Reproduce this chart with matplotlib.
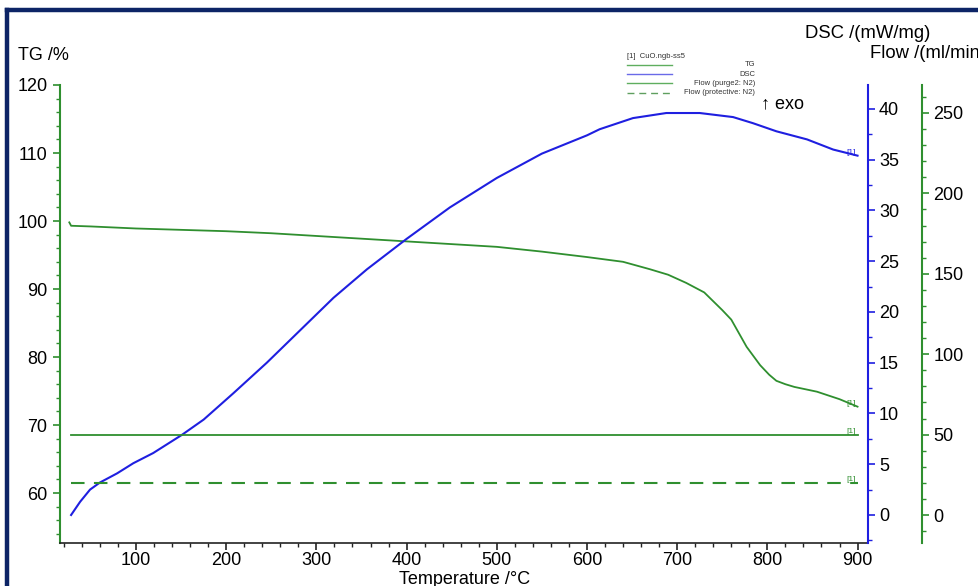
import matplotlib
matplotlib.use("Agg")
import matplotlib.pyplot as plt
from matplotlib.lines import Line2D

plt.rcParams['font.family'] = ['Liberation Sans', 'DejaVu Sans']

# TG curve (T in degC, mass %)
tg_temp = [26, 28, 50, 100, 150, 200, 250, 300, 350, 400, 450, 500, 550, 600,
           640, 670, 690, 710, 730, 750, 760, 777, 792, 802, 810, 820, 830,
           855, 880, 900]
tg_val = [99.8, 99.3, 99.2, 98.9, 98.7, 98.5, 98.2, 97.8, 97.4, 97.0, 96.6,
          96.2, 95.5, 94.7, 94.0, 92.9, 92.1, 90.9, 89.5, 86.9, 85.5, 81.5,
          78.8, 77.4, 76.5, 76.0, 75.6, 74.9, 73.8, 72.7]

# DSC curve (mW/mg)
dsc_temp = [28, 38, 49, 60, 79, 97, 119, 151, 175, 208, 245, 282, 319, 356,
            400, 448, 500, 550, 600, 614, 651, 688, 725, 762, 784, 810, 844,
            873, 900]
dsc_val = [0.0, 1.3, 2.5, 3.2, 4.1, 5.1, 6.1, 7.9, 9.4, 12.0, 15.0, 18.2,
           21.4, 24.2, 27.2, 30.3, 33.2, 35.6, 37.4, 38.0, 39.1, 39.6, 39.6,
           39.2, 38.6, 37.8, 37.0, 36.0, 35.4]

# gas flows (ml/min)
flow_temp = [28, 900]
flow_purge = [50, 50]
flow_protective = [20, 20]

legend_labels = ["TG", "DSC", "Flow (purge2: N2)", "Flow (protective: N2)"]

green = '#2f8f2f'
blue = '#1f1fe0'

fig = plt.figure(figsize=(9.79, 5.86), dpi=100)
ax = fig.add_axes([60 / 979, 1 - 543 / 586, 808 / 979, 458 / 586])
ax2 = ax.twinx()
ax3 = ax.twinx()

ax.plot(tg_temp, tg_val, color=green, lw=1.3)
ax2.plot(dsc_temp, dsc_val, color=blue, lw=1.5)
ax3.plot(flow_temp, flow_purge, color=green, lw=1.3)
ax3.plot(flow_temp, flow_protective, color=green, lw=1.5, dashes=(6.5, 4.5))

ax.set_xlim(15.7, 911.6)
ax.set_ylim(52.65, 120)
ax2.set_ylim(-2.76, 42.36)
ax3.set_ylim(-17.4, 267.4)

ax.set_xticks(range(100, 901, 100))
ax.set_xticks(range(20, 911, 20), minor=True)
ax.set_yticks(range(60, 121, 10))
ax.set_yticks(range(54, 121, 2), minor=True)
ax2.set_yticks(range(0, 41, 5))
ax2.set_yticks([x * 2.5 for x in range(-1, 17)], minor=True)
ax3.set_yticks(range(0, 251, 50))
ax3.set_yticks(range(-10, 261, 10), minor=True)

for a in (ax, ax2, ax3):
    a.spines['top'].set_visible(False)
ax.spines['right'].set_visible(False)
for s in ('left', 'bottom'):
    ax2.spines[s].set_visible(False)
    ax3.spines[s].set_visible(False)
ax.spines['left'].set_color(green)
ax.spines['left'].set_linewidth(1.5)
ax.spines['bottom'].set_color('#222222')
ax.spines['bottom'].set_linewidth(1.2)
ax2.spines['right'].set_color(blue)
ax2.spines['right'].set_linewidth(1.5)
ax3.spines['right'].set_color(green)
ax3.spines['right'].set_linewidth(1.5)
ax3.spines['right'].set_position(('outward', 39))

ax.tick_params(axis='y', which='major', length=5, width=1.2, color=green, labelsize=13, pad=4)
ax.tick_params(axis='y', which='minor', length=3, width=1.0, color=green)
ax.tick_params(axis='x', which='major', length=5, width=1.2, color='#222222', labelsize=13, pad=1.5)
ax.tick_params(axis='x', which='minor', length=3, width=1.0, color='#222222')
ax2.tick_params(axis='y', which='major', length=5, width=1.2, color=blue, labelsize=13, pad=3)
ax2.tick_params(axis='y', which='minor', length=3, width=1.0, color=blue)
ax3.tick_params(axis='y', which='major', length=5, width=1.2, color=green, labelsize=13, pad=3)
ax3.tick_params(axis='y', which='minor', length=3, width=1.0, color=green)

# axis titles
fig.text(18 / 979, 1 - 55 / 586, "TG /%", fontsize=13, va='center', ha='left')
fig.text(805 / 979, 1 - 33 / 586, "DSC /(mW/mg)", fontsize=13.3, va='center', ha='left')
fig.text(870 / 979, 1 - 53 / 586, "Flow /(ml/min)", fontsize=13.3, va='center', ha='left')
fig.text(465 / 979, 1 - 579 / 586, "Temperature /\u00b0C", fontsize=13, va='center', ha='center')
fig.text(761 / 979, 1 - 104 / 586, "\u2191 exo", fontsize=13, va='center', ha='left')

# "[1]" tags at curve ends
tag = dict(fontsize=6, ha='right', va='bottom', textcoords='offset points', xytext=(-1, 0))
ax.annotate("[1]", (tg_temp[-1], tg_val[-1]), color=green, **tag)
ax2.annotate("[1]", (dsc_temp[-1], dsc_val[-1]), color=blue, **tag)
ax3.annotate("[1]", (flow_temp[-1], flow_purge[-1]), color=green, **tag)
ax3.annotate("[1]", (flow_temp[-1], flow_protective[-1]), color=green, **tag)

# legend block
W, H = 979, 586
fig.text(627 / W, 1 - 56 / H, "[1]  CuO.ngb-ss5", fontsize=5.5, color='#333333', va='center')
leg_colors = ['#5fae5f', '#6a6ae8', '#5fae5f', '#5f9f5f']
leg_y = [65, 74.3, 83.3, 92.7]
for i, lab in enumerate(legend_labels):
    y = 1 - leg_y[i] / H
    ln = Line2D([627 / W, 672 / W], [y, y], transform=fig.transFigure,
                color=leg_colors[i], lw=1.0)
    if i == 3:
        ln.set_dashes((5, 3.5))
    fig.add_artist(ln)
    fig.text(755 / W, y, lab, fontsize=5.5, color='#333333', va='center', ha='right')

# dark frame (left and top edges)
navy = '#0d2466'
fig.add_artist(Line2D([7 / W, 7 / W], [0, 1 - 10 / H], transform=fig.transFigure, color=navy, lw=3.2))
fig.add_artist(Line2D([7 / W, 1], [1 - 10 / H, 1 - 10 / H], transform=fig.transFigure, color=navy, lw=3.2))

fig.savefig("out.png", dpi=100)
